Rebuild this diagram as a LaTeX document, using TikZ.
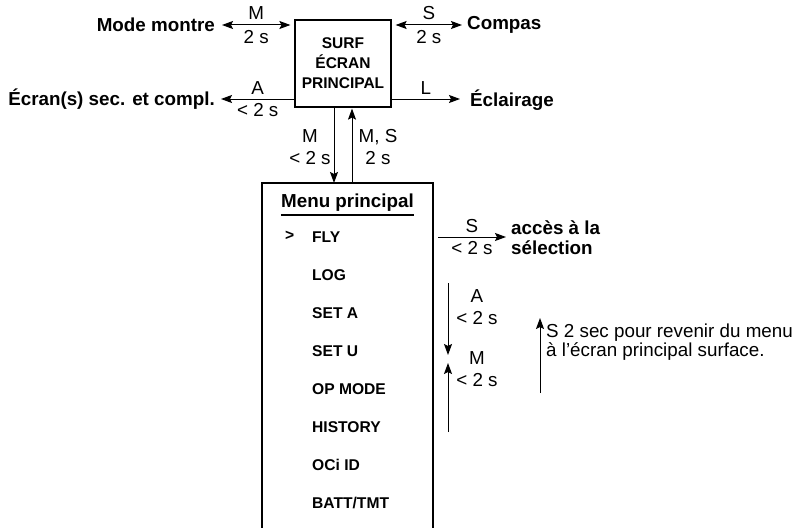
\documentclass[tikz,border=0pt]{standalone}
\usepackage{fontspec}
\setmainfont{Liberation Sans}
\usetikzlibrary{arrows.meta,positioning,calc}

\begin{document}
\begin{tikzpicture}[x=1pt,y=-1pt,
    lbl/.style={font=\fontsize{18.8}{21.5}\selectfont, inner sep=0pt, align=center},
    blbl/.style={font=\fontsize{18.8}{20}\selectfont\bfseries, inner sep=0pt},
    item/.style={font=\fontsize{15.6}{16}\selectfont\bfseries, anchor=west, inner sep=0pt},
    arr/.style={-{Stealth[length=11pt,width=8pt,inset=2pt]}, line width=1pt},
    darr/.style={{Stealth[length=11pt,width=8pt,inset=2pt]}-{Stealth[length=11pt,width=8pt,inset=2pt]}, line width=1pt}]
    \useasboundingbox (0,0) rectangle (794,527);

    % ecran principal
    \node[draw, line width=1.2pt, minimum width=96pt, minimum height=87pt, align=center,
          font=\fontsize{15.5}{20}\selectfont\bfseries] (surf) at (343,63.5) {SURF\\ÉCRAN\\PRINCIPAL};

    \node[blbl, anchor=east] (montre) at (215,25) {Mode montre};
    \node[blbl, anchor=west] (compas) at (467,25) {Compas};
    \node[blbl, anchor=east] (ecrans) at (215,99) {Écran(s) sec. et compl.};
    \node[blbl, anchor=west] (eclair) at (470,100) {Éclairage};

    \draw[darr] ([xshift=7pt]montre.east) -- ([xshift=-4pt]surf.west |- montre.east)
        node[lbl, midway, above=5pt] {M} node[lbl, midway, below=5pt] {2 s};
    \draw[darr] ([xshift=4pt]surf.east |- compas.west) -- ([xshift=-5pt]compas.west)
        node[lbl, midway, above=5pt] {S} node[lbl, midway, below=5pt] {2 s};
    \draw[arr] (surf.west |- ecrans.east) -- ([xshift=6pt]ecrans.east)
        node[lbl, midway, above=4pt] {A} node[lbl, midway, below=4pt] {< 2 s};
    \draw[arr] (surf.east |- ecrans.east) -- ([xshift=-10pt]eclair.west |- ecrans.east)
        node[lbl, midway, above=4pt] {L};

    % menu principal
    \coordinate (mtl) at (262,183);
    \coordinate (mtr) at (433,183);
    \draw[line width=1.2pt] (262,530) -- (mtl) -- (mtr) -- (433,530);
    \node[blbl] (titre) at (347.5,203) {Menu principal};
    \draw[line width=1.2pt] ([yshift=-3pt]titre.south west) -- ([yshift=-3pt]titre.south east);
    \foreach \nom [count=\i from 0] in {FLY,LOG,SET A,SET U,OP MODE,HISTORY,OCi ID,BATT/TMT}
        \node[item] (it\i) at (312,{237+38*\i}) {\nom};
    \node[item] (curseur) at (285,236) {>};

    \draw[arr] ([xshift=-9pt]surf.south) -- ([xshift=-9pt]surf.south |- mtl);
    \draw[arr] ([xshift=9pt]surf.south |- mtl) -- ([xshift=9pt,yshift=-1pt]surf.south);
    \node[lbl] at (310,147) {M\\< 2 s};
    \node[lbl] at (378,147) {M, S\\2 s};

    \node[blbl, anchor=west, align=left] (acces) at (511,238) {accès à la\\sélection};
    \draw[arr] ([xshift=5pt]mtr |- it0) -- ([xshift=-5pt]acces.west |- it0)
        node[lbl, midway, above=4pt] {S} node[lbl, midway, below=4pt] {< 2 s};

    \coordinate (ahaut) at (448,283);
    \coordinate (abas) at (448,355);
    \coordinate (mbas) at (448,432);
    \coordinate (mhaut) at (448,363);
    \draw[arr] (ahaut) -- (abas);
    \draw[arr] (mbas) -- (mhaut);
    \node[lbl] at (477,307) {A\\< 2 s};
    \node[lbl] at (477,369) {M\\< 2 s};

    \node[lbl, anchor=west, align=left, font=\fontsize{18.8}{19}\selectfont] (retour) at (546,342)
        {S 2 sec pour revenir du menu\\à l'écran principal surface.};
    \draw[arr] ([xshift=-6pt]retour.west |- 0,393) -- ([xshift=-6pt]retour.west |- 0,318);
\end{tikzpicture}
\end{document}
